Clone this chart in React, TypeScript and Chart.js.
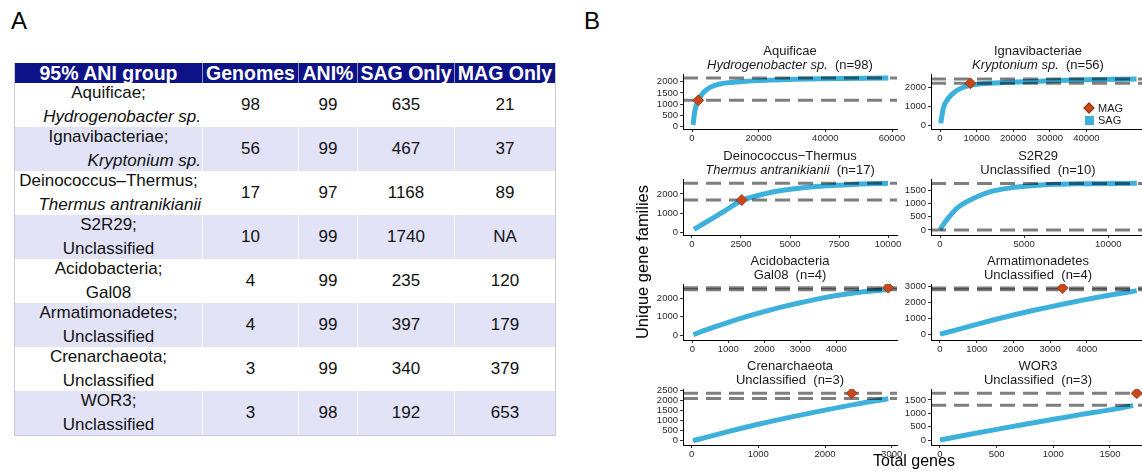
import React, { useEffect, useRef } from 'react';
import { Chart, registerables } from 'chart.js';

Chart.register(...registerables);

const FONT = '"Liberation Sans", Arial, Helvetica, sans-serif';

// ---------------- Panel A: table data ----------------
const tableHeaders = ['95% ANI group', 'Genomes', 'ANI%', 'SAG Only', 'MAG Only'];
const groupPhylum = ['Aquificae;', 'Ignavibacteriae;', 'Deinococcus\u2013Thermus;', 'S2R29;', 'Acidobacteria;', 'Armatimonadetes;', 'Crenarchaeota;', 'WOR3;'];
const groupTaxon = ['Hydrogenobacter sp.', 'Kryptonium sp.', 'Thermus antranikianii', 'Unclassified', 'Gal08', 'Unclassified', 'Unclassified', 'Unclassified'];
const groupTaxonItalic = [true, true, true, false, false, false, false, false];
const genomes = [98, 56, 17, 10, 4, 4, 3, 3];
const aniPct = [99, 99, 97, 99, 99, 99, 99, 98];
const sagOnly = [635, 467, 1168, 1740, 235, 397, 340, 192];
const magOnly = ['21', '37', '89', 'NA', '120', '179', '379', '653'];

// ---------------- Panel B: rarefaction data ----------------
const panelPhylum = ['Aquificae', 'Ignavibacteriae', 'Deinococcus\u2212Thermus', 'S2R29', 'Acidobacteria', 'Armatimonadetes', 'Crenarchaeota', 'WOR3'];
const panelTaxon = ['Hydrogenobacter sp.', 'Kryptonium sp.', 'Thermus antranikianii', 'Unclassified', 'Gal08', 'Unclassified', 'Unclassified', 'Unclassified'];
const panelTaxonItalic = [true, true, true, false, false, false, false, false];
const panelN = [98, 56, 17, 10, 4, 4, 3, 3];

// SAG rarefaction curves (total genes, unique gene families)
const aquificaeX = [300, 900, 1900, 3400, 5400, 8400, 14400, 24400, 39400, 58900];
const aquificaeY = [80, 740, 1170, 1510, 1750, 1900, 2000, 2075, 2130, 2160];
const ignaviX = [200, 900, 2300, 4100, 6400, 8600, 13700, 22800, 36400, 53700];
const ignaviY = [120, 900, 1430, 1770, 2000, 2120, 2210, 2290, 2380, 2432];
const deinoX = [100, 750, 1600, 2540, 3800, 5000, 6700, 8400, 10000];
const deinoY = [150, 550, 1070, 1650, 2030, 2240, 2410, 2500, 2552];
const s2r29X = [0, 400, 1000, 2000, 3000, 4000, 6000, 8900, 11700];
const s2r29Y = [20, 380, 815, 1190, 1440, 1565, 1690, 1740, 1755];
const acidoX = [30, 400, 1000, 1500, 2000, 2500, 3000, 3500, 4000, 4650, 5400];
const acidoY = [20, 290, 690, 1000, 1275, 1530, 1760, 1970, 2150, 2330, 2460];
const armatiX = [0, 450, 1000, 1500, 2000, 2500, 3000, 3500, 4000, 4600, 5360];
const armatiY = [10, 280, 630, 930, 1215, 1480, 1730, 1970, 2200, 2460, 2750];
const crenX = [20, 230, 530, 1000, 1500, 2000, 2470, 2950];
const crenY = [0, 180, 440, 820, 1190, 1530, 1830, 2100];
const wor3X = [0, 150, 500, 750, 1000, 1250, 1500, 1705];
const wor3Y = [0, 120, 400, 590, 775, 960, 1130, 1290];

const sagCurvesX = [aquificaeX, ignaviX, deinoX, s2r29X, acidoX, armatiX, crenX, wor3X];
const sagCurvesY = [aquificaeY, ignaviY, deinoY, s2r29Y, acidoY, armatiY, crenY, wor3Y];

// MAG points (null = no MAG)
const magGenes = [1900, 8300, 2540, null, 5440, 3340, 2400, 1736];
const magFamilies = [1170, 2208, 1682, null, 2580, 2910, 2370, 1751];

// Dashed reference levels
const sagTotalFamilies = [2160, 2432, 2552, 1750, 2470, 2800, 2110, 1300];
const magTotalFamilies = [1170, 2208, 1682, 0, 2580, 2910, 2370, 1751];

// Tick values
const xTickValues = [
  [0, 20000, 40000, 60000],
  [0, 10000, 20000, 30000, 40000],
  [0, 2500, 5000, 7500, 10000],
  [0, 5000, 10000],
  [0, 1000, 2000, 3000, 4000],
  [0, 1000, 2000, 3000, 4000],
  [0, 1000, 2000, 3000],
  [0, 500, 1000, 1500],
];
const yTickValues = [
  [0, 500, 1000, 1500, 2000],
  [0, 1000, 2000],
  [0, 1000, 2000],
  [0, 500, 1000, 1500],
  [0, 1000, 2000],
  [0, 1000, 2000, 3000],
  [0, 500, 1000, 1500, 2000, 2500],
  [0, 500, 1000, 1500],
];

// ---------------- layout (positions / axis bounds) ----------------
const panelBoxes = [
  { left: 683, top: 74, right: 897, bottom: 129, xMin: -2700, xMax: 61500, yMin: -102, yMax: 2342 },
  { left: 931, top: 74, right: 1145, bottom: 129, xMin: -2459, xMax: 56006, yMin: -172, yMax: 2693 },
  { left: 683, top: 179, right: 897, bottom: 235, xMin: -459, xMax: 10459, yMin: -141, yMax: 2776 },
  { left: 931, top: 179, right: 1145, bottom: 235, xMin: -535, xMax: 12181, yMin: -188, yMax: 1917 },
  { left: 683, top: 284, right: 897, bottom: 340, xMin: -258, xMax: 5686, yMin: -272, yMax: 2779 },
  { left: 931, top: 284, right: 1145, bottom: 340, xMin: -245, xMax: 5586, yMin: -359, yMax: 3169 },
  { left: 683, top: 389, right: 897, bottom: 445, xMin: -130, xMax: 3080, yMin: -215, yMax: 2585 },
  { left: 931, top: 389, right: 1145, bottom: 445, xMin: -79, xMax: 1809, yMin: -187, yMax: 1912 },
];

const YW = 40;
const PT = 10;
const PR = 18;
const XH = 20;

const SAG_COLOR = '#3db1dc';
const MAG_COLOR = '#c8471b';
const DASH_COLOR = 'rgba(0,0,0,0.5)';
const TICK_COLOR = '#2a2a2a';

function ChartPanel({ i }: { i: number }) {
  const ref = useRef<HTMLCanvasElement>(null);
  const b = panelBoxes[i];
  const W = YW + (b.right - b.left) + PR;
  const H = PT + (b.bottom - b.top) + XH;

  useEffect(() => {
    if (!ref.current) return;
    const curve = sagCurvesX[i].map((x, k) => ({ x, y: sagCurvesY[i][k] }));
    const mag = magGenes[i] !== null ? [{ x: magGenes[i] as number, y: magFamilies[i] as number }] : [];
    const hLine = (v: number) => [
      { x: b.xMin, y: v },
      { x: b.xMax, y: v },
    ];
    const tickFont = { family: FONT, size: 9.5 };
    const chart = new Chart(ref.current, {
      type: 'line',
      data: {
        datasets: [
          {
            label: 'MAG',
            data: mag,
            showLine: false,
            pointStyle: 'rectRot',
            pointRadius: 5.5,
            pointBackgroundColor: MAG_COLOR,
            pointBorderColor: '#8c2f0d',
            pointBorderWidth: 0.8,
            order: 0,
          },
          {
            label: 'SAG total',
            data: hLine(sagTotalFamilies[i]),
            borderColor: DASH_COLOR,
            borderWidth: 3,
            borderDash: [15, 8],
            pointRadius: 0,
            order: 1,
          },
          {
            label: 'MAG total',
            data: hLine(magTotalFamilies[i]),
            borderColor: DASH_COLOR,
            borderWidth: 3,
            borderDash: [15, 8],
            pointRadius: 0,
            order: 1,
          },
          {
            label: 'SAG',
            data: curve,
            borderColor: SAG_COLOR,
            borderWidth: 5,
            pointRadius: 0,
            cubicInterpolationMode: 'monotone',
            order: 2,
          },
        ],
      } as any,
      options: {
        animation: false,
        responsive: false,
        maintainAspectRatio: false,
        events: [],
        layout: { padding: { top: PT, right: PR, left: 0, bottom: 0 } },
        plugins: {
          legend: { display: false },
          tooltip: { enabled: false },
          title: { display: false },
        },
        scales: {
          x: {
            type: 'linear',
            bounds: 'data',
            min: b.xMin,
            max: b.xMax,
            afterBuildTicks: (s: any) => {
              s.ticks = xTickValues[i].map((v) => ({ value: v }));
            },
            afterFit: (s: any) => {
              s.height = XH;
            },
            grid: {
              display: true,
              drawOnChartArea: false,
              drawTicks: true,
              tickLength: 3,
              color: '#333',
              tickColor: '#333',
            },
            border: { display: true, color: '#000', width: 1 },
            ticks: {
              font: tickFont,
              color: TICK_COLOR,
              padding: 1,
              maxRotation: 0,
              minRotation: 0,
              autoSkip: false,
              callback: (v: any) => String(v),
            },
          },
          y: {
            type: 'linear',
            bounds: 'data',
            min: b.yMin,
            max: b.yMax,
            afterBuildTicks: (s: any) => {
              s.ticks = yTickValues[i].map((v) => ({ value: v }));
            },
            afterFit: (s: any) => {
              s.width = YW;
            },
            grid: {
              display: true,
              drawOnChartArea: false,
              drawTicks: true,
              tickLength: 3,
              color: '#333',
              tickColor: '#333',
            },
            border: { display: true, color: '#000', width: 1 },
            ticks: {
              font: tickFont,
              color: TICK_COLOR,
              padding: 2,
              autoSkip: false,
              callback: (v: any) => String(v),
            },
          },
        },
      } as any,
    });
    return () => chart.destroy();
  }, [i]);

  return (
    <canvas
      ref={ref}
      width={W}
      height={H}
      style={{ position: 'absolute', left: b.left - YW, top: b.top - PT, width: W, height: H }}
    />
  );
}

function PanelTitle({ i }: { i: number }) {
  const b = panelBoxes[i];
  return (
    <div
      style={{
        position: 'absolute',
        left: b.left,
        width: b.right - b.left,
        top: b.top - 30,
        fontFamily: FONT,
        fontSize: 13,
        lineHeight: '14px',
        textAlign: 'center',
        color: '#1a1a1a',
        whiteSpace: 'pre',
      }}
    >
      <div>{panelPhylum[i]}</div>
      <div>
        <span style={{ fontStyle: panelTaxonItalic[i] ? 'italic' : 'normal' }}>{panelTaxon[i]}</span>
        {'  (n=' + panelN[i] + ')'}
      </div>
    </div>
  );
}

const colWidths = [188, 96, 59, 97, 102];
const HEADER_BG = '#0e1287';
const LAVENDER = '#e3e3f8';

function TableA() {
  const rowCells = (r: number) => [String(genomes[r]), String(aniPct[r]), String(sagOnly[r]), magOnly[r]];
  return (
    <div
      style={{
        position: 'absolute',
        left: 14,
        top: 63,
        width: 542,
        fontFamily: FONT,
        color: '#111',
        borderLeft: '1px solid #c9c9d6',
        borderRight: '1px solid #c9c9d6',
        borderBottom: '1px solid #c9c9d6',
        boxSizing: 'border-box',
      }}
    >
      <div style={{ display: 'flex', height: 20, background: HEADER_BG }}>
        {tableHeaders.map((h, c) => (
          <div
            key={h}
            style={{
              width: colWidths[c] - (c === 0 ? 1 : 0) - (c === 4 ? 1 : 0),
              boxSizing: 'border-box',
              borderLeft: c > 0 ? '1px solid rgba(255,255,255,0.55)' : 'none',
              color: '#fff',
              fontWeight: 'bold',
              fontSize: 19.5,
              lineHeight: '20px',
              textAlign: 'center',
              whiteSpace: 'nowrap',
            }}
          >
            {h}
          </div>
        ))}
      </div>
      {groupPhylum.map((p, r) => (
        <div key={p} style={{ display: 'flex', height: 44, background: r % 2 === 1 ? LAVENDER : '#fff' }}>
          <div
            style={{
              width: colWidths[0] - 1,
              boxSizing: 'border-box',
              display: 'flex',
              flexDirection: 'column',
              justifyContent: 'center',
              fontSize: 17,
              lineHeight: '24px',
              whiteSpace: 'nowrap',
            }}
          >
            <div style={{ textAlign: 'center' }}>{p}</div>
            <div
              style={{
                textAlign: groupTaxonItalic[r] ? 'right' : 'center',
                fontStyle: groupTaxonItalic[r] ? 'italic' : 'normal',
                paddingRight: groupTaxonItalic[r] ? 1 : 0,
              }}
            >
              {groupTaxon[r]}
            </div>
          </div>
          {rowCells(r).map((v, c) => (
            <div
              key={c}
              style={{
                width: colWidths[c + 1] - (c === 3 ? 1 : 0),
                boxSizing: 'border-box',
                borderLeft: '1px solid rgba(255,255,255,0.85)',
                display: 'flex',
                alignItems: 'center',
                justifyContent: 'center',
                fontSize: 17,
              }}
            >
              {v}
            </div>
          ))}
        </div>
      ))}
    </div>
  );
}

export default function App() {
  return (
    <div
      style={{
        position: 'absolute',
        left: 0,
        top: 0,
        width: 1142,
        height: 474,
        overflow: 'hidden',
        background: '#fff',
        fontFamily: FONT,
      }}
    >
      <div style={{ position: 'absolute', left: 11, top: 9, fontSize: 24, lineHeight: '24px', color: '#000' }}>A</div>
      <div style={{ position: 'absolute', left: 584, top: 9, fontSize: 24, lineHeight: '24px', color: '#000' }}>B</div>
      <TableA />
      {panelBoxes.map((_, i) => (
        <ChartPanel key={'c' + i} i={i} />
      ))}
      {panelBoxes.map((_, i) => (
        <PanelTitle key={'t' + i} i={i} />
      ))}
      {/* legend inside Ignavibacteriae panel */}
      <div
        style={{
          position: 'absolute',
          left: 1085,
          top: 104,
          width: 8,
          height: 8,
          background: MAG_COLOR,
          border: '0.8px solid #8c2f0d',
          boxSizing: 'border-box',
          transform: 'rotate(45deg)',
        }}
      />
      <div style={{ position: 'absolute', left: 1084.5, top: 115.5, width: 9, height: 9, background: SAG_COLOR }} />
      <div style={{ position: 'absolute', left: 1098, top: 102, fontSize: 11, lineHeight: '12px', color: '#1a1a1a' }}>MAG</div>
      <div style={{ position: 'absolute', left: 1098, top: 114, fontSize: 11, lineHeight: '12px', color: '#1a1a1a' }}>SAG</div>
      {/* axis titles */}
      <div
        style={{
          position: 'absolute',
          left: 642 - 100,
          top: 262 - 9,
          width: 200,
          height: 18,
          fontSize: 16.5,
          lineHeight: '18px',
          textAlign: 'center',
          transform: 'rotate(-90deg)',
          color: '#000',
          whiteSpace: 'nowrap',
        }}
      >
        Unique gene families
      </div>
      <div
        style={{
          position: 'absolute',
          left: 914 - 100,
          top: 452,
          width: 200,
          fontSize: 16,
          lineHeight: '18px',
          textAlign: 'center',
          color: '#000',
          whiteSpace: 'nowrap',
        }}
      >
        Total genes
      </div>
    </div>
  );
}
